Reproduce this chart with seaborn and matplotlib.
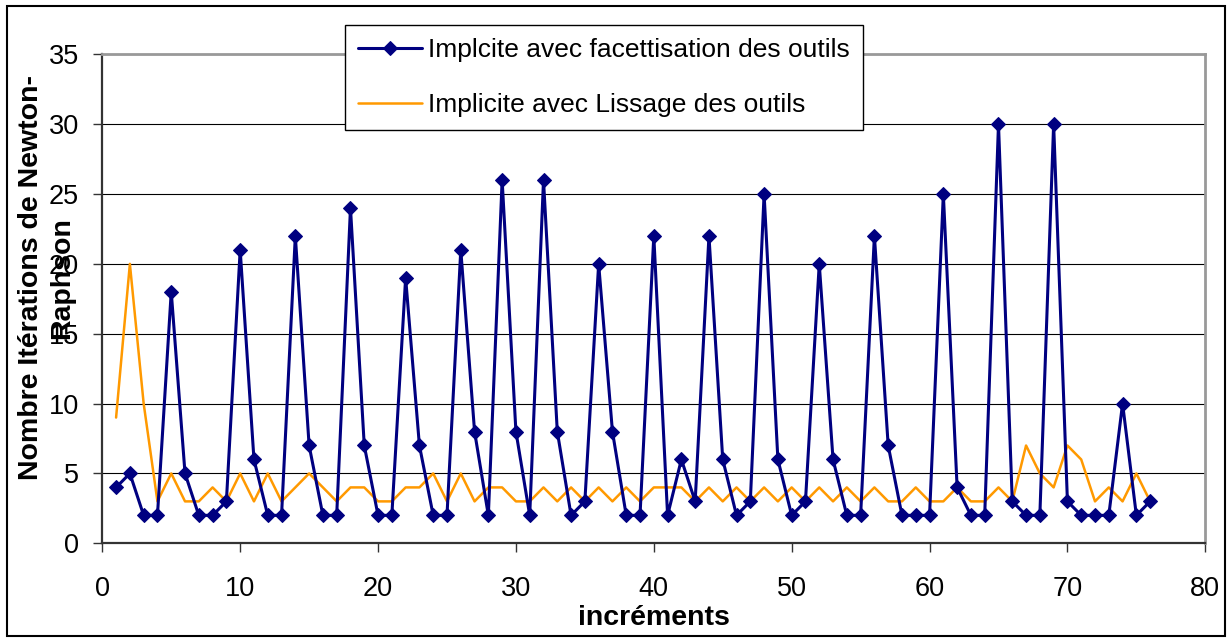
import matplotlib
matplotlib.use("Agg")
import matplotlib.pyplot as plt
import matplotlib.patches as patches
import seaborn as sns

# increments 1..76
increments = list(range(1, 77))

# "Implcite avec facettisation des outils"
facettisation = [4, 5, 2, 2, 18, 5, 2, 2, 3, 21,
                 6, 2, 2, 22, 7, 2, 2, 24, 7, 2,
                 2, 19, 7, 2, 2, 21, 8, 2, 26, 8,
                 2, 26, 8, 2, 3, 20, 8, 2, 2, 22,
                 2, 6, 3, 22, 6, 2, 3, 25, 6, 2,
                 3, 20, 6, 2, 2, 22, 7, 2, 2, 2,
                 25, 4, 2, 2, 30, 3, 2, 2, 30, 3,
                 2, 2, 2, 10, 2, 3]

# "Implicite avec Lissage des outils"
lissage = [9, 20, 10, 3, 5, 3, 3, 4, 3, 5,
           3, 5, 3, 4, 5, 4, 3, 4, 4, 3,
           3, 4, 4, 5, 3, 5, 3, 4, 4, 3,
           3, 4, 3, 4, 3, 4, 3, 4, 3, 4,
           4, 4, 3, 4, 3, 4, 3, 4, 3, 4,
           3, 4, 3, 4, 3, 4, 3, 3, 4, 3,
           3, 4, 3, 3, 4, 3, 7, 5, 4, 7,
           6, 3, 4, 3, 5, 3]

label_facet = "Implcite avec facettisation des outils"
label_liss = "Implicite avec Lissage des outils"
x_ticks = [0, 10, 20, 30, 40, 50, 60, 70, 80]
y_ticks = [0, 5, 10, 15, 20, 25, 30, 35]

sns.set_style("white")
plt.rcParams['font.family'] = ['Liberation Sans', 'DejaVu Sans']
plt.rcParams['text.color'] = 'black'
plt.rcParams['axes.labelcolor'] = 'black'
plt.rcParams['xtick.color'] = 'black'
plt.rcParams['ytick.color'] = 'black'

W, H = 1230, 640
fig = plt.figure(figsize=(W / 100, H / 100), dpi=100)
ax = fig.add_axes([102.3 / W, (H - 543.3) / H, 1103 / W, 489 / H])

sns.lineplot(x=increments, y=facettisation, ax=ax, color='#000080', linewidth=2.2,
             marker='D', markersize=7.5, markeredgecolor='#000080',
             label=label_facet, zorder=3)
sns.lineplot(x=increments, y=lissage, ax=ax, color='#FF9900', linewidth=1.8,
             label=label_liss, zorder=2)

ax.set_xlim(0, 80)
ax.set_ylim(0, 35)
ax.set_xticks(x_ticks)
ax.set_yticks(y_ticks)
ax.tick_params(axis='both', direction='out', length=6.5, width=1.0, color='#333333',
               labelsize=19.5, labelcolor='black')
ax.tick_params(axis='x', pad=17, bottom=True)
ax.tick_params(axis='y', pad=10.5, left=True)

ax.set_axisbelow(True)
ax.yaxis.grid(True, color='black', linewidth=0.8)
ax.xaxis.grid(False)

for side in ['left', 'bottom']:
    ax.spines[side].set_color('#333333')
    ax.spines[side].set_linewidth(1.6)
for side in ['top', 'right']:
    ax.spines[side].set_color('#999999')
    ax.spines[side].set_linewidth(2.0)

ax.set_xlabel("incréments", fontsize=20.5, fontweight='bold')
ax.xaxis.set_label_coords(0.5, -0.127)
ax.set_ylabel("")
fig.text(47 / W, 1 - 278 / H, "Nombre Itérations de Newton-\nRaphson",
         rotation=90, ha='center', va='center', multialignment='center',
         fontsize=20.5, fontweight='bold', linespacing=1.25)

leg = ax.legend(loc='upper left', bbox_to_anchor=(345 / W, 1 - 24.6 / H),
                bbox_transform=fig.transFigure, borderaxespad=0,
                fontsize=19, frameon=True, fancybox=False, shadow=False,
                handlelength=2.4, handletextpad=0.25, borderpad=0.5,
                labelspacing=1.18)
leg.get_frame().set_edgecolor('black')
leg.get_frame().set_linewidth(1.0)
leg.get_frame().set_alpha(1)

fig.patches.append(patches.Rectangle((7 / W, 4 / H), (1225 - 7) / W, (636 - 6) / H,
                                     transform=fig.transFigure, fill=False,
                                     edgecolor='black', linewidth=1.5))

fig.savefig("out.png", dpi=100)
plt.close()
